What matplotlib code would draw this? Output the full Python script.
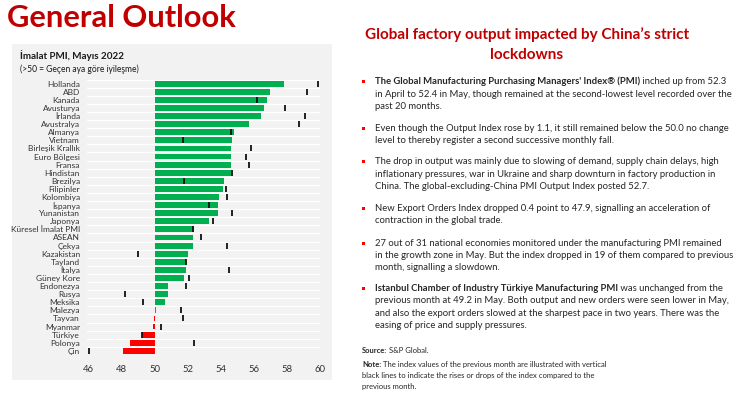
import matplotlib
matplotlib.use("Agg")
import matplotlib.pyplot as plt
from matplotlib.patches import Rectangle

# ---------------- data ----------------
countries = ["Hollanda", "ABD", "Kanada", "Avusturya", "İrlanda", "Avustralya", "Almanya",
             "Vietnam", "Birleşik Krallık", "Euro Bölgesi", "Fransa", "Hindistan", "Brezilya",
             "Filipinler", "Kolombiya", "İspanya", "Yunanistan", "Japonya", "Küresel İmalat PMI",
             "ASEAN", "Çekya", "Kazakistan", "Tayland", "İtalya", "Güney Kore", "Endonezya",
             "Rusya", "Meksika", "Malezya", "Tayvan", "Myanmar", "Türkiye", "Polonya", "Çin"]
pmi_may = [57.8, 57.0, 56.8, 56.6, 56.4, 55.7, 54.8,
           54.7, 54.6, 54.6, 54.6, 54.6, 54.2,
           54.1, 53.9, 53.8, 53.8, 53.3, 52.4,
           52.3, 52.3, 52.0, 51.9, 51.9, 51.8, 50.8,
           50.8, 50.6, 50.1, 49.95, 49.9, 49.2, 48.5, 48.1]
pmi_apr = [59.9, 59.2, 56.2, 57.9, 59.1, 58.7, 54.6,
           51.7, 55.8, 55.5, 55.7, 54.7, 51.8,
           54.3, 54.4, 53.3, 54.7, 53.5, 52.3,
           52.8, 54.4, 49.0, 51.9, 54.5, 52.1, 51.9,
           48.2, 49.3, 51.6, 51.7, 50.4, 49.2, 52.4, 46.0]
xticks = [46, 48, 50, 52, 54, 56, 58, 60]
baseline = 50

W, H = 740, 393
FONT = "Lato"
RED_T = "#c00000"
GREEN = "#00b050"
RED = "#ff0000"
TXT = "#262626"

fig = plt.figure(figsize=(W / 100, H / 100), dpi=100)
fig.patch.set_facecolor("white")
renderer = fig.canvas.get_renderer()


def fx(px):
    return px / W


def fy(py):
    return 1 - py / H


def measure(s, size, weight="normal"):
    t = fig.text(0, 0, s, fontsize=size, fontweight=weight, family=FONT)
    w = t.get_window_extent(renderer).width
    t.remove()
    return w


def fit(s, target, weight="normal"):
    return 10 * target / measure(s, 10, weight)


# ---------------- left panel ----------------
fig.patches.append(Rectangle((fx(12), fy(380)), fx(320), 336 / H, transform=fig.transFigure,
                             facecolor="#f2f2f2", edgecolor="none", zorder=-5))

fig.text(fx(7), fy(18), "General Outlook", color=RED_T, fontweight="bold", family=FONT,
         fontsize=fit("General Outlook", 230, "bold"), va="center", ha="left")

fig.text(fx(20), fy(56), "İmalat PMI, Mayıs 2022", color="#1a1a1a", fontweight="bold", family=FONT,
         fontsize=fit("İmalat PMI, Mayıs 2022", 105, "bold"), va="center")
fig.text(fx(20), fy(69), "(>50 = Geçen aya göre iyileşme)", color="#1a1a1a", family=FONT,
         fontsize=fit("(>50 = Geçen aya göre iyileşme)", 119), va="center")

ax = fig.add_axes([fx(87), (H - 354.9) / H, 233 / W, 275.3 / H])
ax.set_facecolor("none")
n = len(countries)
ys = list(range(n))
colors = [GREEN if v >= baseline else RED for v in pmi_may]
widths = [v - baseline for v in pmi_may]
for i in range(n + 1):
    ax.axhline(i - 0.5, color="white", lw=0.9, zorder=0)
ax.barh(ys, widths, left=baseline, height=0.72, color=colors, zorder=2)
ax.plot(pmi_apr, ys, linestyle="none", marker="|", markersize=4.3, mew=1.3,
        color="#111111", zorder=3)
ax.set_xlim(45.9, 60.0)
ax.set_ylim(n - 0.5, -0.5)
ax.set_yticks(ys)
ax.set_yticklabels(countries, family=FONT, fontsize=6.0, color="#333333")
ax.set_xticks(xticks)
ax.set_xticklabels([str(t) for t in xticks], family=FONT, fontsize=6.8, color="#333333")
ax.tick_params(axis="both", length=0)
ax.tick_params(axis="y", pad=5)
ax.tick_params(axis="x", pad=7)
for s in ax.spines.values():
    s.set_visible(False)

# ---------------- right text ----------------
t1 = "Global factory output impacted by China’s strict"
tsize = fit(t1, 325, "bold")
fig.text(fx(527), fy(35), t1, color=RED_T, fontweight="bold", family=FONT, fontsize=tsize,
         ha="center", va="center")
fig.text(fx(527), fy(55), "lockdowns", color=RED_T, fontweight="bold", family=FONT,
         fontsize=tsize, ha="center", va="center")

ref_line = "in April to 52.4 in May, though remained at the second-lowest level recorded over the"
bsize = fit(ref_line, 357)

bullets = [
    ([81.7, 94.3, 106.7],
     [[("The Global Manufacturing Purchasing Managers' Index® (PMI)", "bold"), (" inched up from 52.3", "normal")],
      [(ref_line, "normal")],
      [("past 20 months.", "normal")]]),
    ([128.3, 140.5],
     [[("Even though the Output Index rose by 1.1, it still remained below the 50.0 no change", "normal")],
      [("level to thereby register a second successive monthly fall.", "normal")]]),
    ([161.7, 174.3, 186.7],
     [[("The drop in output was mainly due to slowing of demand, supply chain delays, high", "normal")],
      [("inflationary pressures, war in Ukraine and sharp downturn in factory production in", "normal")],
      [("China. The global-excluding-China PMI Output Index posted 52.7.", "normal")]]),
    ([208.3, 220.7],
     [[("New Export Orders Index dropped 0.4 point to 47.9, signalling an acceleration of", "normal")],
      [("contraction in the global trade.", "normal")]]),
    ([243.3, 255.5, 267.5],
     [[("27 out of 31 national economies monitored under the manufacturing PMI remained", "normal")],
      [("in the growth zone in May. But the index dropped in 19 of them compared to previous", "normal")],
      [("month, signalling a slowdown.", "normal")]]),
    ([288.3, 300.7, 313.3, 326.0],
     [[("Istanbul Chamber of Industry Türkiye Manufacturing PMI", "bold"), (" was unchanged from the", "normal")],
      [("previous month at 49.2 in May. Both output and new orders were seen lower in May,", "normal")],
      [("and also the export orders slowed at the sharpest pace in two years. There was the", "normal")],
      [("easing of price and supply pressures.", "normal")]]),
]


def draw_segments(x0, y, segs, size):
    x = x0
    for s, wgt in segs:
        t = fig.text(fx(x), fy(y), s, fontsize=size, fontweight=wgt, family=FONT,
                     color=TXT, va="center", ha="left")
        x += t.get_window_extent(renderer).width


for ypos, lines in bullets:
    y0 = ypos[0]
    fig.patches.append(Rectangle((fx(362), fy(y0 + 1.6)), 3.2 / W, 3.2 / H,
                                 transform=fig.transFigure, facecolor=RED, edgecolor="none"))
    for yy, segs in zip(ypos, lines):
        draw_segments(375, yy, segs, bsize)

note_l1 = "The index values of the previous month are illustrated with vertical"
nsize = fit("Note: " + note_l1, 245)
draw_segments(362, 350.7, [("Source:", "bold"), (" S&P Global.", "normal")], nsize)
draw_segments(362, 364.3, [("Note:", "bold"), (" " + note_l1, "normal")], nsize)
draw_segments(362, 375.7, [("black lines to indicate the rises or drops of the index compared to the", "normal")], nsize)
draw_segments(362, 386.0, [("previous month.", "normal")], nsize)

fig.savefig("out.png", dpi=100)
